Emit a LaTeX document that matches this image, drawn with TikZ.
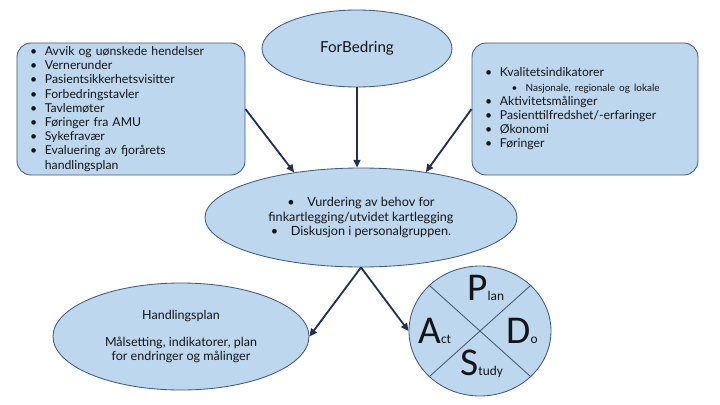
\documentclass[tikz,border=0pt]{standalone}
\usepackage{fontspec}
\setmainfont{Lato}
\newfontfamily\pdsafont{Carlito}
\usetikzlibrary{shapes.geometric,arrows.meta}
\definecolor{paleBlue}{HTML}{BDD7EE}
\definecolor{edgeBlue}{HTML}{41597A}
\definecolor{arrowNavy}{HTML}{1F3050}
\definecolor{inkDark}{HTML}{141414}
\newcommand{\bp}{\makebox[10.6pt][l]{\textbullet}}
\newcommand{\pdsaletter}[2]{{\pdsafont\fontsize{28}{28}\selectfont #1}{\pdsafont\fontsize{9.5}{9.5}\selectfont #2}}

\begin{document}
\begin{tikzpicture}[bubble/.style={ellipse, draw=edgeBlue, fill=paleBlue, line width=0.6pt, inner sep=0pt, align=center, text=inkDark},
    listbox/.style={rectangle, rounded corners=10pt, draw=edgeBlue, fill=paleBlue, line width=0.6pt, align=left, text=inkDark, inner xsep=0.325cm, inner ysep=0pt, font=\fontsize{8.7}{10.1}\selectfont},
    link/.style={-{Triangle[length=5.5pt,width=5pt]}, line width=1.3pt, arrowNavy},
    letter/.style={anchor=base west, inner sep=0pt, text=inkDark}]
        \useasboundingbox (0,0) rectangle (18,-10.125);

        \node (forb) [bubble, minimum width=4.75cm, minimum height=1.925cm, font=\fontsize{10.8}{12}\selectfont] at (8.925,-1.2125) {ForBedring};

        \node (left) [listbox, minimum width=5.7cm, minimum height=3.3cm, text width=5.05cm] at (3.275,-2.725) {\bp Avvik og uønskede hendelser\\ \bp Vernerunder\\ \bp Pasientsikkerhetsvisitter\\ \bp Forbedringstavler\\ \bp Tavlemøter\\ \bp Føringer fra AMU\\ \bp Sykefravær\\ \bp Evaluering av fjorårets\\ \hspace*{10.6pt}handlingsplan};

        \node (right) [listbox, minimum width=5.65cm, minimum height=3.3cm, text width=5.0cm] at (14.625,-2.725) {\bp Kvalitetsindikatorer\\ \hspace*{19pt}{\fontsize{7.1}{10}\selectfont\makebox[9.9pt][l]{\textbullet}Nasjonale, regionale og lokale}\\ \bp Aktivitetsmålinger\\ \bp Pasienttilfredshet/-erfaringer\\ \bp Økonomi\\ \bp Føringer};

        \node (vurd) [bubble, minimum width=7.8cm, minimum height=2.475cm, font=\fontsize{9}{10.4}\selectfont] at (9.025,-5.4375) {\textbullet\quad Vurdering av behov for\\ finkartlegging/utvidet kartlegging\\ \textbullet\quad Diskusjon i personalgruppen.};

        \node (hplan) [bubble, minimum width=6.4cm, minimum height=2.675cm, font=\fontsize{8.9}{9.6}\selectfont] at (4.525,-8.4125) {Handlingsplan\\[10pt] Målsetting, indikatorer, plan\\ for endringer og målinger};

        % PDSA circle
        \node (pdsa) [bubble, minimum width=3.55cm, minimum height=3.25cm] at (12.0,-8.275) {};
        \draw[edgeBlue, line width=0.6pt] (pdsa.42) -- (pdsa.222);
        \draw[edgeBlue, line width=0.6pt] (pdsa.138) -- (pdsa.-42);
        \node (plet) [letter] at (11.675,-7.5) {\pdsaletter{P}{lan}};
        \node (alet) [letter] at (10.45,-8.575) {\pdsaletter{A}{ct}};
        \node (dlet) [letter] at (12.65,-8.575) {\pdsaletter{D}{o}};
        \node (slet) [letter] at (11.5,-9.375) {\pdsaletter{S}{tudy}};

        \draw[link] (left.east) -- (vurd.146);
        \draw[link] (forb.south) -- (forb.south |- vurd.north);
        \draw[link] (right.west) -- (vurd.35);
        \draw[link] (vurd.south) -- (hplan.east);
        \draw[link] (vurd.south) -- (pdsa.west);
    \end{tikzpicture}
\end{document}
